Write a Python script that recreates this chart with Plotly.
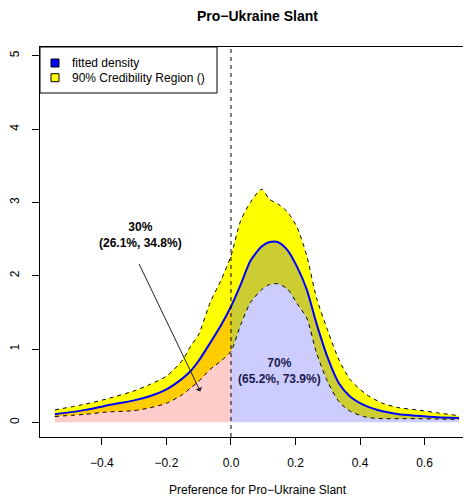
import plotly.graph_objects as go

# оси и значения
x = [-0.546, -0.45, -0.385, -0.3, -0.25, -0.2, -0.15, -0.125, -0.1, -0.065, -0.03, 0.0,
     0.03, 0.06, 0.095, 0.12, 0.145, 0.175, 0.205, 0.235, 0.265, 0.3, 0.335, 0.37,
     0.42, 0.47, 0.52, 0.575, 0.64, 0.707]
density = [0.11, 0.17, 0.23, 0.30, 0.36, 0.45, 0.60, 0.70, 0.84, 1.08, 1.33, 1.58,
           1.88, 2.20, 2.40, 2.46, 2.46, 2.35, 2.12, 1.81, 1.35, 0.88, 0.53, 0.35,
           0.22, 0.15, 0.11, 0.09, 0.07, 0.06]
upper = [0.17, 0.25, 0.32, 0.43, 0.52, 0.63, 0.85, 1.04, 1.20, 1.63, 1.95, 2.27,
         2.75, 3.00, 3.18, 3.04, 2.98, 2.87, 2.66, 2.27, 1.70, 1.25, 0.85, 0.58,
         0.38, 0.26, 0.20, 0.17, 0.13, 0.09]
lower = [0.08, 0.11, 0.14, 0.16, 0.20, 0.26, 0.38, 0.47, 0.56, 0.72, 0.84, 0.97,
         1.33, 1.63, 1.81, 1.88, 1.89, 1.82, 1.62, 1.42, 0.95, 0.55, 0.28, 0.15,
         0.07, 0.05, 0.05, 0.05, 0.045, 0.04]

x_ticks = [-0.4, -0.2, 0.0, 0.2, 0.4, 0.6]
y_ticks = [0, 1, 2, 3, 4, 5]

left_label = ['30%', '(26.1%, 34.8%)']
right_label = ['70%', '(65.2%, 73.9%)']
legend_labels = ['fitted density', '90% Credibility Region ()']
legend_colors = ['#0000ff', '#ffff00']

arrow_from = (-0.287, 2.18)
arrow_to = (-0.095, 0.42)

neg = [i for i, v in enumerate(x) if v <= 0]
pos = [i for i, v in enumerate(x) if v >= 0]

FONT = 'Liberation Sans, Arial, sans-serif'
SMOOTH = dict(shape='spline', smoothing=0.7)

fig = go.Figure()

# 90% область (жёлтая полоса)
fig.add_trace(go.Scatter(x=x, y=lower, mode='lines', line=dict(width=0, **SMOOTH),
                         showlegend=False, hoverinfo='skip'))
fig.add_trace(go.Scatter(x=x, y=upper, mode='lines', line=dict(width=0, **SMOOTH), fill='tonexty',
                         fillcolor='#ffff00', showlegend=False, hoverinfo='skip'))

# доли слева и справа от нуля
fig.add_trace(go.Scatter(x=[x[i] for i in neg], y=[density[i] for i in neg], mode='lines',
                         line=dict(width=0, **SMOOTH), fill='tozeroy', fillcolor='rgba(255,0,0,0.2)',
                         showlegend=False, hoverinfo='skip'))
fig.add_trace(go.Scatter(x=[x[i] for i in pos], y=[density[i] for i in pos], mode='lines',
                         line=dict(width=0, **SMOOTH), fill='tozeroy', fillcolor='rgba(0,0,255,0.2)',
                         showlegend=False, hoverinfo='skip'))

# границы и плотность
for b in (upper, lower):
    fig.add_trace(go.Scatter(x=x, y=b, mode='lines',
                             line=dict(color='black', width=1, dash='4px,4px', **SMOOTH),
                             showlegend=False))
fig.add_trace(go.Scatter(x=x, y=density, mode='lines', line=dict(color='#0000ff', width=2, **SMOOTH),
                         showlegend=False))

fig.add_vline(x=0, line=dict(color='black', width=1, dash='4px,4px'))

# подписи процентов
fig.add_annotation(x=-0.281, y=2.555, text='<b>%s</b>' % '<br>'.join(left_label), showarrow=False,
                   font=dict(family=FONT, size=12, color='black'))
fig.add_annotation(x=0.150, y=0.70, text='<b>%s</b>' % '<br>'.join(right_label), showarrow=False,
                   font=dict(family=FONT, size=12, color='#1a1a4d'))

fig.add_annotation(x=arrow_to[0], y=arrow_to[1], ax=arrow_from[0], ay=arrow_from[1],
                   xref='x', yref='y', axref='x', ayref='y', text='', showarrow=True,
                   arrowhead=1, arrowsize=1.2, arrowwidth=1, arrowcolor='#222222')


def px(xp, yp):
    # пиксели страницы -> координаты paper
    return (xp - 40) / 431, (437 - yp) / 390


# легенда вручную, как в R
x0, y0 = px(40, 47)
x1, y1 = px(217, 93)
fig.add_shape(type='rect', xref='paper', yref='paper', x0=x0, y0=y0, x1=x1, y1=y1,
              line=dict(color='black', width=1), fillcolor='white')
for k, (lab, col) in enumerate(zip(legend_labels, legend_colors)):
    cy = 63 + k * 14.7
    a0, b0 = px(51, cy - 4)
    a1, b1 = px(59, cy + 4)
    fig.add_shape(type='rect', xref='paper', yref='paper', x0=a0, y0=b0, x1=a1, y1=b1,
                  line=dict(color='black', width=1), fillcolor=col)
    tx, ty = px(70, cy)
    fig.add_annotation(x=tx, y=ty, xref='paper', yref='paper', text=lab, showarrow=False,
                       xanchor='left', yanchor='middle', font=dict(family=FONT, size=12, color='black'))

# заголовок и подпись оси X
tx, ty = px(257.5, 16)
fig.add_annotation(x=tx, y=ty, xref='paper', yref='paper', text='<b>Pro−Ukraine Slant</b>',
                   showarrow=False, yanchor='middle', font=dict(family=FONT, size=14, color='black'))
tx, ty = px(257.5, 490)
fig.add_annotation(x=tx, y=ty, xref='paper', yref='paper', text='Preference for Pro−Ukraine Slant',
                   showarrow=False, yanchor='middle', font=dict(family=FONT, size=12, color='black'))

# страница имеет отступ 8px, поэтому фигура меньше на 8px
fig.update_layout(
    width=463, height=490,
    margin=dict(l=32, r=0, t=39, b=61),
    plot_bgcolor='white', paper_bgcolor='white',
    showlegend=False,
    font=dict(family=FONT, size=12, color='black'),
    xaxis=dict(range=[-0.592, 0.744], tickvals=x_ticks, tickformat='.1f', ticks='outside',
               ticklen=7, tickcolor='black', showline=True, linecolor='black', linewidth=1,
               mirror=True, showgrid=False, zeroline=False, ticklabelstandoff=8),
    yaxis=dict(range=[-0.2, 5.12], tickvals=y_ticks, ticks='outside', ticklen=7, tickcolor='black',
               showline=True, linecolor='black', linewidth=1, showgrid=False, zeroline=False,
               tickangle=-90, ticklabelstandoff=8),
)

fig.write_html("out.html")
